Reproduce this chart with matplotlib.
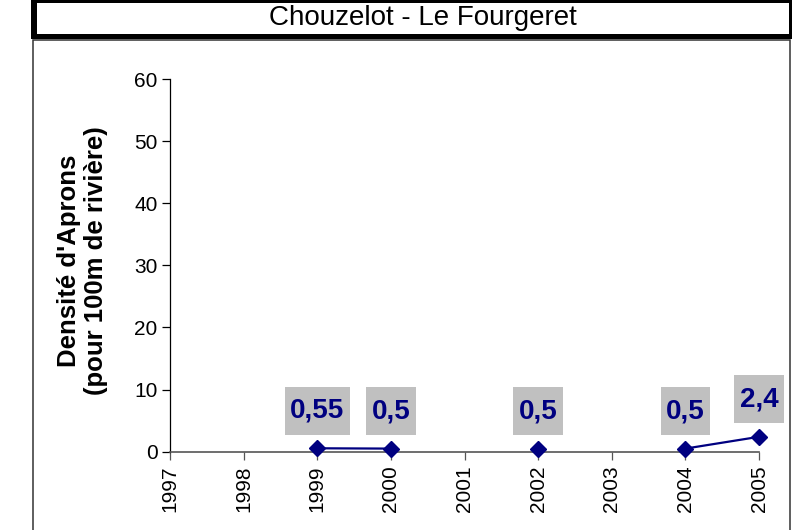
import numpy as np
import matplotlib
matplotlib.use('Agg')
import matplotlib.pyplot as plt
from matplotlib.patches import Rectangle
from matplotlib.path import Path

plt.rcParams['font.family'] = ['Liberation Sans', 'DejaVu Sans']

years = [1997, 1998, 1999, 2000, 2001, 2002, 2003, 2004, 2005]
density = [np.nan, np.nan, 0.55, 0.5, np.nan, 0.5, np.nan, 0.5, 2.4]
title = 'Chouzelot - Le Fourgeret'
ylabel = "Densité d'Aprons\n(pour 100m de rivière)"

navy = '#000080'
grey = '#C0C0C0'


def label_box(x0, y0, width, height, mutation_size):
    # wide vertical padding like the Excel label boxes
    padx = 0.19 * mutation_size
    pady = 0.40 * mutation_size
    x0, y0 = x0 - padx, y0 - pady
    x1, y1 = x0 + width + 2 * padx, y0 + height + 2 * pady
    return Path([(x0, y0), (x1, y0), (x1, y1), (x0, y1), (x0, y0)],
                closed=True)


fig = plt.figure(figsize=(7.92, 5.30), dpi=100)
W, H = 792.0, 530.0

# chart area frame
fig.add_artist(Rectangle((32.5 / W, -0.01), (790.5 - 32.5) / W, 1 - 40.5 / H + 0.01,
                         transform=fig.transFigure, facecolor='white',
                         edgecolor='#333333', lw=1.1, zorder=0))

# title box (black frame with shadow)
fig.add_artist(Rectangle((31 / W, 1 - 39 / H), 770 / W, 40 / H,
                         transform=fig.transFigure, facecolor='black',
                         edgecolor='none', zorder=1))
fig.add_artist(Rectangle((36.5 / W, 1 - 33.5 / H), (789 - 36.5) / W, 30.5 / H,
                         transform=fig.transFigure, facecolor='white',
                         edgecolor='none', zorder=2))
fig.text(423 / W, 1 - 18 / H, title, ha='center', va='center',
         fontsize=20, zorder=3)

ax = fig.add_axes([170 / W, 1 - 451.7 / H, (759 - 170) / W, (451.7 - 79) / H])
ax.patch.set_visible(False)

ax.plot(years, density, color=navy, lw=1.6, marker='D', markersize=8.5,
        markerfacecolor=navy, markeredgecolor=navy, clip_on=False, zorder=4)

for x, v in zip(years, density):
    if np.isnan(v):
        continue
    txt = ('%g' % v).replace('.', ',')
    ax.annotate(txt, (x, v), xytext=(0, 27), textcoords='offset points',
                ha='center', va='center', fontsize=20, fontweight='bold',
                color=navy, annotation_clip=False,
                bbox=dict(boxstyle=label_box, facecolor=grey, edgecolor='none'))

ax.set_xlim(1997, 2005)
ax.set_ylim(0, 60)
ax.set_yticks(range(0, 61, 10))
ax.set_xticks(years)
ax.set_xticklabels([str(y) for y in years], rotation=90)

for s in ['top', 'right']:
    ax.spines[s].set_visible(False)
ax.spines['left'].set_color('black')
ax.spines['bottom'].set_color('#555555')
ax.spines['left'].set_linewidth(0.9)
ax.spines['bottom'].set_linewidth(1.2)

ax.tick_params(axis='y', direction='out', length=6, width=0.9, labelsize=15,
               pad=3)
ax.tick_params(axis='x', direction='out', length=6, width=0.9,
               color='#555555', labelsize=15, pad=4)

ax.set_ylabel(ylabel, fontsize=18.5, fontweight='bold', linespacing=1.15)
ax.yaxis.set_label_coords(-0.105, 0.512)

fig.savefig('out.png', dpi=100)
